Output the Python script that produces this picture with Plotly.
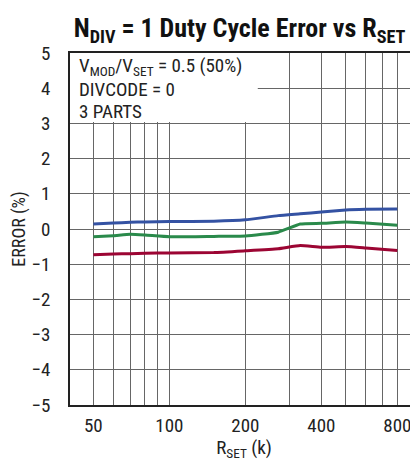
import plotly.graph_objects as go

rset = [50, 60, 70, 80, 100, 150, 200, 270, 330, 400, 500, 600, 800]
part_blue = [0.14, 0.17, 0.19, 0.20, 0.21, 0.22, 0.26, 0.38, 0.43, 0.48, 0.54, 0.56, 0.57]
part_green = [-0.22, -0.19, -0.15, -0.17, -0.22, -0.21, -0.20, -0.09, 0.14, 0.16, 0.20, 0.17, 0.11]
part_red = [-0.73, -0.71, -0.70, -0.69, -0.68, -0.67, -0.62, -0.56, -0.47, -0.52, -0.50, -0.54, -0.61]

grid_x = [50, 60, 70, 80, 90, 100, 200, 300, 400, 500, 600, 700, 800, 900]
label_x = {50: "50", 100: "100", 200: "200", 400: "400", 800: "800"}
y_ticks = [-5, -4, -3, -2, -1, 0, 1, 2, 3, 4, 5]
notes = ["V<sub>MOD</sub>/V<sub>SET</sub> = 0.5 (50%)", "DIVCODE = 0", "3 PARTS"]
note_y = [4.63, 3.95, 3.34]

FONT = "Liberation Sans Narrow, Roboto Condensed, Arial Narrow, Liberation Sans, sans-serif"

fig = go.Figure()
for vals, col in [(part_blue, "#3452a3"), (part_green, "#2a8a4b"), (part_red, "#9c0533")]:
    fig.add_trace(go.Scatter(x=rset, y=vals, mode="lines",
                             line=dict(color=col, width=3, shape="spline", smoothing=0.4),
                             showlegend=False, hoverinfo="skip"))

fig.add_shape(type="rect", xref="x", yref="y", x0=40, x1=224, y0=3.04, y1=5,
              fillcolor="white", line=dict(width=0), layer="between")

for t, yv in zip(notes, note_y):
    fig.add_annotation(xref="paper", yref="y", x=0.02, y=yv,
                       xanchor="left", yanchor="middle", align="left", showarrow=False,
                       text=t, font=dict(family=FONT, size=19, color="#222"))

fig.update_layout(
    width=410, height=453,
    margin=dict(l=62, r=0, t=45, b=56),
    paper_bgcolor="white", plot_bgcolor="white",
    title=dict(text="<b>N<sub>DIV</sub> = 1 Duty Cycle Error vs R<sub>SET</sub></b>",
               x=0.565, xanchor="center", y=0.955, yanchor="middle",
               font=dict(family=FONT, size=26, color="#111")),
    font=dict(family=FONT, size=19, color="#222"),
)
fig.update_xaxes(type="log", range=[1.6064, 2.985],
                 tickvals=grid_x, ticktext=[label_x.get(v, "") for v in grid_x],
                 showgrid=True, gridcolor="#666", gridwidth=1.2,
                 showline=True, linecolor="#222", linewidth=1.5, mirror=True,
                 ticks="", ticklen=0, ticklabelstandoff=2,
                 title=dict(text="R<sub>SET</sub> (k)", standoff=2, font=dict(size=19)),
                 zeroline=False)
fig.update_yaxes(range=[-5, 5], tickvals=y_ticks,
                 showgrid=True, gridcolor="#666", gridwidth=1.2,
                 showline=True, linecolor="#222", linewidth=1.5,
                 ticks="", ticklen=0, ticklabelstandoff=14,
                 title=dict(text="ERROR (%)", standoff=6, font=dict(size=18)),
                 zeroline=False)

fig.write_html("out.html")
